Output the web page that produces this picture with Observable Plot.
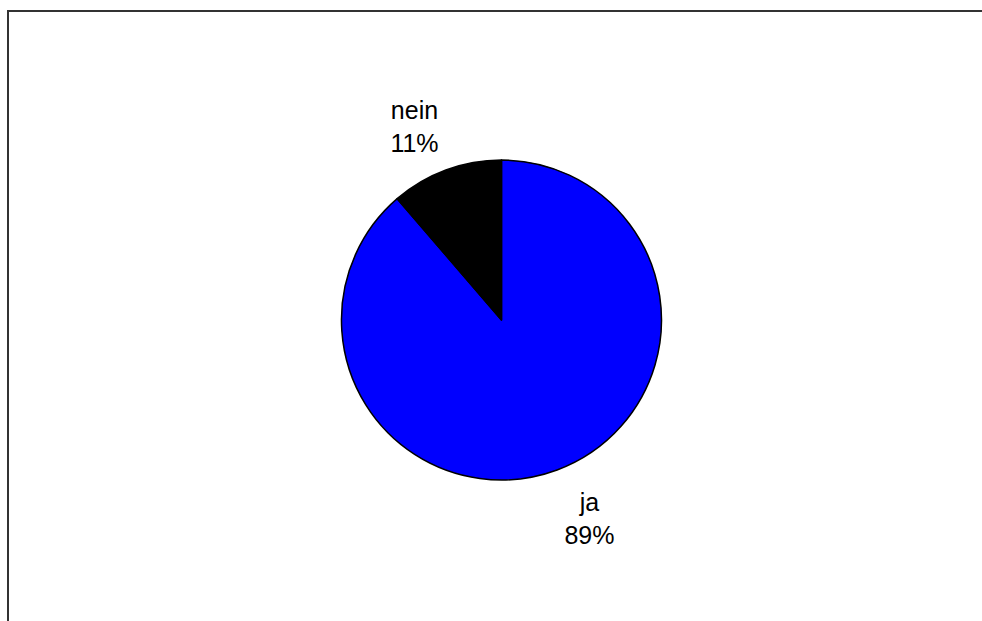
<!DOCTYPE html>
<html>
<head>
<meta charset="utf-8">
<script src="https://cdn.jsdelivr.net/npm/d3@7"></script>
<script src="https://cdn.jsdelivr.net/npm/@observablehq/plot@0.6"></script>
<style>
  html, body { margin: 0; padding: 0; background: #fff; }
  #wrap { position: relative; width: 982px; height: 621px; overflow: hidden; }
  #border { position: absolute; left: 7px; top: 10px; width: 1000px; height: 700px;
            border-top: 2px solid #333; border-left: 2px solid #333; pointer-events: none; }
</style>
</head>
<body>
<div id="wrap"><div id="border"></div></div>
<script>
// Data
const categories = ["ja", "nein"];
const values = [88.7, 11.3];
const percentLabels = ["89%", "11%"];
const sliceColors = ["#0000ff", "#000000"];

const table = categories.map((c, i) => ({category: c, value: values[i], label: percentLabels[i], color: sliceColors[i]}));
const arcs = d3.pie().sort(null).value(d => d.value)(table);

// Label anchor points along each slice's mid-angle (elliptical label ring, in radius units)
const labelRx = 1.573, labelRy = 1.306;
const labelData = arcs.map(a => {
  const mid = (a.startAngle + a.endAngle) / 2;
  return {x: Math.sin(mid) * labelRx, y: Math.cos(mid) * labelRy, text: a.data.category + "\n" + a.data.label};
});

function pieMark(index, scales, values, dimensions, context) {
  const cx = scales.x(0), cy = scales.y(0);
  const r = scales.x(1) - scales.x(0);
  const arc = d3.arc().innerRadius(0).outerRadius(r);
  const g = d3.create("svg:g").attr("transform", `translate(${cx},${cy})`);
  g.selectAll("path").data(arcs).join("path")
    .attr("d", arc)
    .attr("fill", d => d.data.color)
    .attr("stroke", "#000")
    .attr("stroke-width", 1.5)
    .attr("stroke-linejoin", "round");
  return g.node();
}

const chart = Plot.plot({
  width: 982,
  height: 621,
  margin: 0,
  x: {domain: [-3.134, 3.003], axis: null},
  y: {domain: [-1.881, 2.0], axis: null},
  style: {fontFamily: "Liberation Sans, Arial, sans-serif", background: "transparent"},
  marks: [
    pieMark,
    Plot.text(labelData, {
      x: "x", y: "y", text: "text",
      fontSize: 25, lineHeight: 1.32, lineAnchor: "middle", textAnchor: "middle",
      fill: "#000"
    })
  ]
});
document.getElementById("wrap").prepend(chart);
</script>
</body>
</html>
